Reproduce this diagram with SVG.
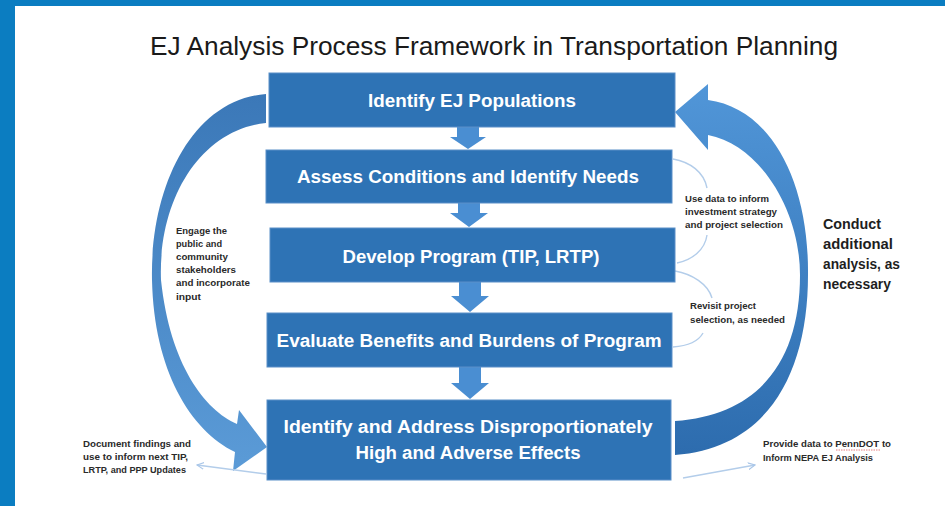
<svg xmlns="http://www.w3.org/2000/svg" width="945" height="506" viewBox="0 0 945 506">
<defs>
<style>
.box{fill:#2e73b5;stroke:#5a8fc8;stroke-width:1}
.bt{font-family:"Liberation Sans",Arial,sans-serif;font-weight:bold;font-size:18px;fill:#ffffff;text-anchor:middle}
.down{fill:#4a8ed2}
.note{font-family:"Liberation Sans",Arial,sans-serif;font-weight:bold;font-size:9.5px;fill:#2a2a2a}
.big{font-family:"Liberation Sans",Arial,sans-serif;font-weight:bold;font-size:14px;fill:#1e1e1e}
.thin{fill:none;stroke:#b3cdea;stroke-width:1.4}
</style>
<linearGradient id="gl" x1="0" y1="0" x2="0" y2="1">
<stop offset="0" stop-color="#3b78b8"/>
<stop offset="1" stop-color="#5b9bd7"/>
</linearGradient>
<linearGradient id="gr" x1="0" y1="0" x2="0" y2="1">
<stop offset="0" stop-color="#5196d8"/>
<stop offset="1" stop-color="#2d6cae"/>
</linearGradient>
<marker id="ah" markerWidth="8" markerHeight="8" refX="7" refY="4" orient="auto" markerUnits="userSpaceOnUse">
<path d="M0,0.5 L7,4 L0,7.5" fill="none" stroke="#a9c6e8" stroke-width="1.2"/>
</marker>
</defs>
<rect x="0" y="0" width="945" height="506" fill="#ffffff"/>
<rect x="0" y="0" width="945" height="6" fill="#0b7dc1"/>
<rect x="0" y="0" width="15" height="506" fill="#0b7dc1"/>
<text x="494" y="55" font-family="'Liberation Sans',Arial,sans-serif" font-size="26" fill="#1a1a1a" text-anchor="middle" textLength="688" lengthAdjust="spacingAndGlyphs">EJ Analysis Process Framework in Transportation Planning</text>

<g id="connectors">
<path id="loop-left" d="M266,94 C190,100 150,190 152,280 C154,370 190,430 235,452 L233,471 L267,447 L239,410 L237,424 C205,410 170,365 161,280 C158,200 200,130 266,123 Z" fill="url(#gl)"/>
<path id="loop-right" d="M675,112 L708,84 L708,100 C770,108 809,180 808,275 C808,370 770,448 675,455 L675,421 C760,415 800,360 800,275 C800,210 760,145 708,135 L708,150 Z" fill="url(#gr)"/>
<polygon class="down" points="457,127 479,127 479,137 486,137 468,149 450,137 457,137"/>
<polygon class="down" points="458,203 480,203 480,213 488,213 469,227 450,213 458,213"/>
<polygon class="down" points="459,282 481,282 481,296 489,296 470,312 451,296 459,296"/>
<polygon class="down" points="459,367 481,367 481,383 489,383 470,399 451,383 459,383"/>
<path class="thin" d="M673,159 C690,162 704,172 707,188"/>
<path class="thin" d="M707,235 C705,250 692,260 677,263"/>
<path class="thin" d="M675,271 C692,274 708,284 712,298"/>
<path class="thin" d="M703,333 C698,342 688,346 673,347"/>
<path class="thin" d="M266,474 L197,465" marker-end="url(#ah)"/>
<path class="thin" d="M683,478 L755,465" marker-end="url(#ah)"/>
</g>

<g id="n1"><rect class="box" x="269" y="73" width="406" height="54"/><text class="bt" x="472" y="107" textLength="208" lengthAdjust="spacingAndGlyphs">Identify EJ Populations</text></g>
<g id="n2"><rect class="box" x="266" y="150" width="406" height="53"/><text class="bt" x="468" y="183" textLength="342" lengthAdjust="spacingAndGlyphs">Assess Conditions and Identify Needs</text></g>
<g id="n3"><rect class="box" x="270" y="228" width="405" height="54"/><text class="bt" x="471" y="263" textLength="257" lengthAdjust="spacingAndGlyphs">Develop Program (TIP, LRTP)</text></g>
<g id="n4"><rect class="box" x="267" y="313" width="405" height="54"/><text class="bt" x="469" y="347" textLength="385" lengthAdjust="spacingAndGlyphs">Evaluate Benefits and Burdens of Program</text></g>
<g id="n5"><rect class="box" x="267" y="400" width="404" height="80"/><text class="bt" x="468" y="433" textLength="369" lengthAdjust="spacingAndGlyphs">Identify and Address Disproportionately</text><text class="bt" x="468" y="459" textLength="225" lengthAdjust="spacingAndGlyphs">High and Adverse Effects</text></g>

<g id="label-engage">
<text class="note" x="176" y="234" textLength="51" lengthAdjust="spacingAndGlyphs">Engage the</text>
<text class="note" x="176" y="247" textLength="46" lengthAdjust="spacingAndGlyphs">public and</text>
<text class="note" x="176" y="260" textLength="52" lengthAdjust="spacingAndGlyphs">community</text>
<text class="note" x="176" y="273" textLength="60" lengthAdjust="spacingAndGlyphs">stakeholders</text>
<text class="note" x="176" y="286" textLength="74" lengthAdjust="spacingAndGlyphs">and incorporate</text>
<text class="note" x="176" y="300" textLength="25" lengthAdjust="spacingAndGlyphs">input</text>
</g>
<g id="label-usedata">
<text class="note" x="685" y="202" textLength="84" lengthAdjust="spacingAndGlyphs">Use data to inform</text>
<text class="note" x="685" y="215" textLength="92" lengthAdjust="spacingAndGlyphs">investment strategy</text>
<text class="note" x="685" y="228" textLength="98" lengthAdjust="spacingAndGlyphs">and project selection</text>
</g>
<g id="label-revisit">
<text class="note" x="690" y="309" textLength="66" lengthAdjust="spacingAndGlyphs">Revisit project</text>
<text class="note" x="690" y="323" textLength="95" lengthAdjust="spacingAndGlyphs">selection, as needed</text>
</g>
<g id="label-conduct">
<text class="big" x="823" y="229" textLength="58" lengthAdjust="spacingAndGlyphs">Conduct</text>
<text class="big" x="823" y="249" textLength="70" lengthAdjust="spacingAndGlyphs">additional</text>
<text class="big" x="823" y="269" textLength="77" lengthAdjust="spacingAndGlyphs">analysis, as</text>
<text class="big" x="823" y="289" textLength="68" lengthAdjust="spacingAndGlyphs">necessary</text>
</g>
<g id="label-document">
<text class="note" x="83" y="447" textLength="108" lengthAdjust="spacingAndGlyphs">Document findings and</text>
<text class="note" x="83" y="460" textLength="105" lengthAdjust="spacingAndGlyphs">use to inform next TIP,</text>
<text class="note" x="83" y="473" textLength="103" lengthAdjust="spacingAndGlyphs">LRTP, and PPP Updates</text>
</g>
<g id="label-provide">
<text class="note" x="763" y="447" textLength="128" lengthAdjust="spacingAndGlyphs">Provide data to PennDOT to</text>
<text class="note" x="763" y="461" textLength="110" lengthAdjust="spacingAndGlyphs">Inform NEPA EJ Analysis</text>
<path d="M836,450 L880,450" stroke="#e06060" stroke-width="0.8" stroke-dasharray="1.5,1" fill="none"/>
</g>
</svg>
